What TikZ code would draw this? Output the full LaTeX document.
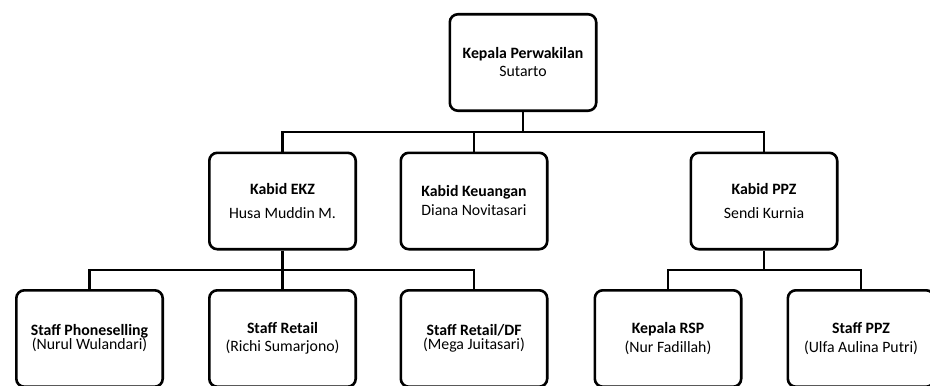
\documentclass[tikz,border=0pt]{standalone}
\usepackage{fontspec}
\setmainfont{Carlito}
\begin{document}
\begin{tikzpicture}[x=0.75pt,y=-0.75pt,
  orgbox/.style={draw=black, line width=1.95pt, rounded corners=6pt, fill=white,
    minimum width=109.8pt, minimum height=72.3pt, align=center, inner sep=0pt,
    font=\fontsize{11.85}{13.5}\selectfont},
  conn/.style={draw=black, line width=1.95pt}]
\useasboundingbox (0,0) rectangle (930,385);
\clip (0,0) rectangle (930,385);
\node[orgbox] (top) at (523,62.5) {\textbf{Kepala Perwakilan}\\ Sutarto};
\node[orgbox] (ekz) at (282.5,201) {\textbf{Kabid EKZ}\\[4.5pt] Husa Muddin M.};
\node[orgbox] (keu) at (474,201) {\textbf{Kabid Keuangan}\\[0.75pt] Diana Novitasari};
\node[orgbox] (ppz) at (764,201) {\textbf{Kabid PPZ}\\[4.5pt] Sendi Kurnia};
\node[orgbox] (phone) at (89.5,338.5) {\textbf{Staff Phoneselling}\\[-3pt] (Nurul Wulandari)};
\node[orgbox] (retail) at (282.5,338.5) {\textbf{Staff Retail}\\ (Richi Sumarjono)};
\node[orgbox] (retaildf) at (474,338.5) {\textbf{Staff Retail/DF}\\[-3pt] (Mega Juitasari)};
\node[orgbox] (rsp) at (668,338.5) {\textbf{Kepala RSP}\\[0.75pt] (Nur Fadillah)};
\node[orgbox] (sppz) at (861,338.5) {\textbf{Staff PPZ}\\[0.75pt] (Ulfa Aulina Putri)};
\coordinate (b1) at (523,132);
\coordinate (b2) at (282.5,270);
\coordinate (b3) at (764,270);
\draw[conn] (top.south) -- (b1);
\draw[conn] (ekz.north) |- (b1) -| (ppz.north);
\draw[conn] (keu.north) -- (keu.north |- b1);
\draw[conn] (ekz.south) -- (retail.north);
\draw[conn] (phone.north) |- (b2) -| (retaildf.north);
\draw[conn] (ppz.south) -- (b3);
\draw[conn] (rsp.north) |- (b3) -| (sppz.north);
\end{tikzpicture}
\end{document}
